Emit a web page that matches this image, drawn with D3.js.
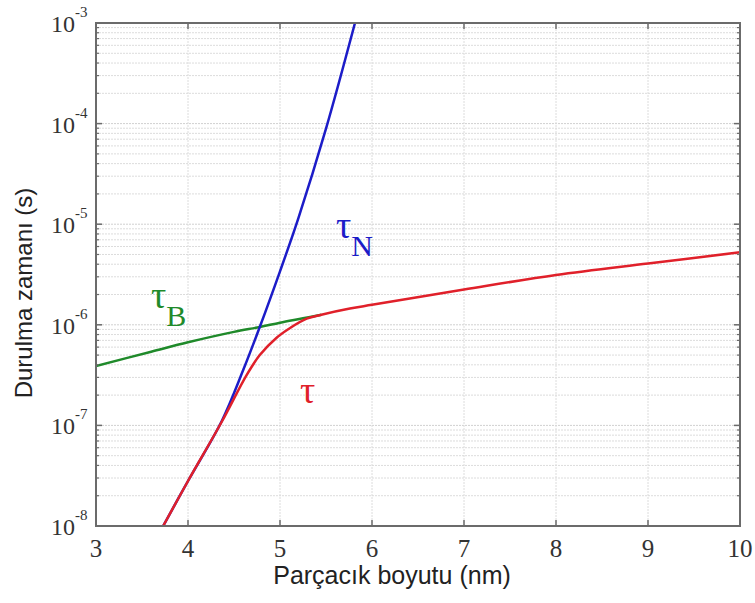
<!DOCTYPE html>
<html>
<head>
<meta charset="utf-8">
<script src="https://cdn.jsdelivr.net/npm/d3@7"></script>
<style>
  body { margin: 0; background: #fff; }
</style>
</head>
<body>
<div id="vis"></div>
<script>
// relaxation time vs particle size (log y)

// data
var sizeNeel = [3.73, 4.0, 4.37, 4.6, 4.78, 5.0, 5.2, 5.5, 5.815];
var tauNeel = [1.0e-8, 2.8e-8, 1.12e-7, 3.55e-7, 9.5e-7, 3.4e-6, 1.15e-5, 8.9e-5, 1.0e-3];

var sizeBrown = [3.0, 3.6, 4.0, 4.5, 4.78, 5.0, 5.25, 5.45];
var tauBrown = [3.9e-7, 5.4e-7, 6.7e-7, 8.5e-7, 9.5e-7, 1.05e-6, 1.16e-6, 1.26e-6];

var sizeEff = [3.73, 4.0, 4.37, 4.64, 4.78, 4.96, 5.11, 5.29, 5.45, 5.76, 6, 7, 8, 9, 10];
var tauEff = [1.0e-8, 2.8e-8, 1.1e-7, 3.2e-7, 5.0e-7, 7.4e-7, 9.3e-7, 1.15e-6, 1.26e-6,
              1.45e-6, 1.58e-6, 2.24e-6, 3.13e-6, 4.07e-6, 5.25e-6];

var xTicks = [3, 4, 5, 6, 7, 8, 9, 10];
var yDecades = [-8, -7, -6, -5, -4, -3];

var W = 755, H = 603;
var pLeft = 96, pRight = 740, pTop = 23, pBottom = 526;

var svg = d3.select('#vis').append('svg')
  .attr('width', W)
  .attr('height', H);

var x = d3.scaleLinear().domain([3, 10]).range([pLeft, pRight]);
var y = d3.scaleLog().domain([1e-8, 1e-3]).range([pBottom, pTop]);

// minor values 2..9 x each decade
var minor = [];
yDecades.slice(0, -1).forEach(function(e) {
  for (var k = 2; k <= 9; k++) minor.push(k * Math.pow(10, e));
});
var majors = yDecades.map(function(e) { return Math.pow(10, e); });

var grid = svg.append('g');
grid.selectAll('.hmin').data(minor).enter().append('line')
  .attr('x1', pLeft).attr('x2', pRight)
  .attr('y1', function(d) { return y(d); })
  .attr('y2', function(d) { return y(d); })
  .attr('stroke', '#dcdcdc')
  .attr('stroke-width', 1)
  .attr('stroke-dasharray', '2,1');
grid.selectAll('.hmaj').data(majors).enter().append('line')
  .attr('x1', pLeft).attr('x2', pRight)
  .attr('y1', function(d) { return y(d); })
  .attr('y2', function(d) { return y(d); })
  .attr('stroke', '#d0d0d0')
  .attr('stroke-width', 1)
  .attr('stroke-dasharray', '2,1');
grid.selectAll('.v').data(xTicks).enter().append('line')
  .attr('x1', function(d) { return x(d); })
  .attr('x2', function(d) { return x(d); })
  .attr('y1', pTop).attr('y2', pBottom)
  .attr('stroke', '#dcdcdc')
  .attr('stroke-width', 1)
  .attr('stroke-dasharray', '2,1');

// curves
svg.append('clipPath').attr('id', 'clip')
  .append('rect').attr('x', pLeft).attr('y', pTop)
  .attr('width', pRight - pLeft).attr('height', pBottom - pTop);

function drawCurve(xs, ys, col) {
  var pts = xs.map(function(d, i) { return [d, ys[i]]; });
  var line = d3.line()
    .x(function(d) { return x(d[0]); })
    .y(function(d) { return y(d[1]); })
    .curve(d3.curveCatmullRom.alpha(0.5));
  svg.append('path')
    .datum(pts)
    .attr('clip-path', 'url(#clip)')
    .attr('d', line)
    .attr('fill', 'none')
    .attr('stroke', col)
    .attr('stroke-width', 2.5);
}

drawCurve(sizeBrown, tauBrown, '#1f8a2a');
drawCurve(sizeNeel, tauNeel, '#1c1cc8');
drawCurve(sizeEff, tauEff, '#e0202a');

// axes box and ticks (inward, mirrored)
var axCol = '#6b6b6b';
var ax = svg.append('g');
ax.append('rect')
  .attr('x', pLeft).attr('y', pTop)
  .attr('width', pRight - pLeft).attr('height', pBottom - pTop)
  .attr('fill', 'none').attr('stroke', axCol).attr('stroke-width', 2);

xTicks.forEach(function(t) {
  ax.append('line').attr('x1', x(t)).attr('x2', x(t))
    .attr('y1', pBottom).attr('y2', pBottom - 6).attr('stroke', axCol).attr('stroke-width', 1.5);
  ax.append('line').attr('x1', x(t)).attr('x2', x(t))
    .attr('y1', pTop).attr('y2', pTop + 6).attr('stroke', axCol).attr('stroke-width', 1.5);
});
majors.forEach(function(t) {
  ax.append('line').attr('x1', pLeft).attr('x2', pLeft + 6)
    .attr('y1', y(t)).attr('y2', y(t)).attr('stroke', axCol).attr('stroke-width', 1.5);
  ax.append('line').attr('x1', pRight).attr('x2', pRight - 6)
    .attr('y1', y(t)).attr('y2', y(t)).attr('stroke', axCol).attr('stroke-width', 1.5);
});
minor.forEach(function(t) {
  ax.append('line').attr('x1', pLeft).attr('x2', pLeft + 3)
    .attr('y1', y(t)).attr('y2', y(t)).attr('stroke', axCol).attr('stroke-width', 1.2);
  ax.append('line').attr('x1', pRight).attr('x2', pRight - 3)
    .attr('y1', y(t)).attr('y2', y(t)).attr('stroke', axCol).attr('stroke-width', 1.2);
});

// tick labels
var serif = 'Liberation Serif, Times New Roman, serif';
var sans = 'Liberation Sans, Arial, sans-serif';

svg.selectAll('.xl').data(xTicks).enter().append('text')
  .attr('x', function(d) { return x(d); })
  .attr('y', 557)
  .attr('text-anchor', 'middle')
  .attr('font-family', serif)
  .attr('font-size', 25)
  .attr('fill', '#333')
  .text(function(d) { return d; });

yDecades.forEach(function(e) {
  var t = svg.append('text')
    .attr('x', 51)
    .attr('y', y(Math.pow(10, e)) + 9)
    .attr('font-family', serif)
    .attr('font-size', 24)
    .attr('fill', '#333');
  t.append('tspan').text('10');
  t.append('tspan').attr('dy', -15).attr('font-size', 15).text(String(e));
});

// axis titles
svg.append('text')
  .attr('x', 392)
  .attr('y', 584)
  .attr('text-anchor', 'middle')
  .attr('font-family', sans)
  .attr('font-size', 25)
  .attr('fill', '#222')
  .text('Parçacık boyutu (nm)');

svg.append('text')
  .attr('transform', 'translate(32,293) rotate(-90)')
  .attr('text-anchor', 'middle')
  .attr('font-family', sans)
  .attr('font-size', 24)
  .attr('fill', '#222')
  .text('Durulma zamanı (s)');

// curve labels
function tauLabel(px, py, sub, col) {
  var t = svg.append('text')
    .attr('x', px).attr('y', py)
    .attr('font-family', serif)
    .attr('font-size', 38)
    .attr('fill', col);
  t.append('tspan').text('τ');
  if (sub) t.append('tspan').attr('dy', 18).attr('font-size', 30).text(sub);
}
tauLabel(336, 238, 'N', '#1c1cc8');
tauLabel(151, 308, 'B', '#1f8a2a');
tauLabel(300, 403, null, '#e0202a');
</script>
</body>
</html>
